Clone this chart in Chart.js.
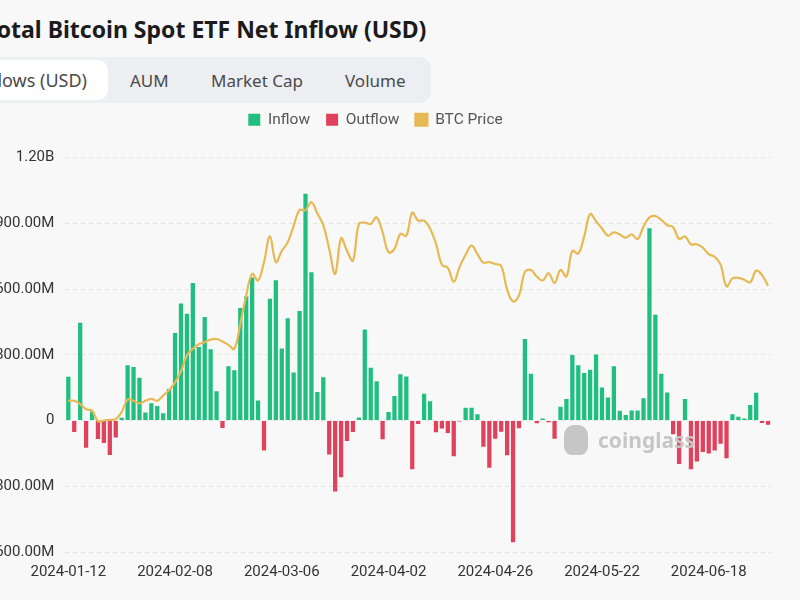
<!DOCTYPE html>
<html>
<head>
<meta charset="utf-8">
<script src="https://cdn.jsdelivr.net/npm/chart.js@4.4.1/dist/chart.umd.min.js"></script>
<style>
  html, body { margin: 0; padding: 0; }
  body {
    width: 800px; height: 600px; overflow: hidden; position: relative;
    background: #f8f8f8; font-family: "Noto Sans", sans-serif;
  }
  .title {
    position: absolute; left: -15px; top: 13px; white-space: nowrap;
    font-size: 23px; font-weight: 700; color: #1b1b1b;
  }
  .tabs {
    position: absolute; left: -40px; top: 57px; width: 471px; height: 46px;
    background: #eceef1; border-radius: 12px;
  }
  .tab {
    position: absolute; top: 80px; transform: translateY(-50%);
    font-size: 17px; color: #4a4a4a; white-space: nowrap;
  }
  .tab.active {
    left: -40px; top: 60px; height: 40px; width: 148px; transform: none;
    background: #fff; border-radius: 10px;
  }
  .tab.active span {
    position: absolute; right: 21px; top: 50%; transform: translateY(-50%);
    font-size: 18px;
  }
  #wrap { position: absolute; left: -20px; top: 96px; width: 820px; height: 488px; }
  .mark {
    position: absolute; left: 564px; top: 425px; display: flex; align-items: center;
    color: #c6c6c6; font-size: 21px; font-weight: 700; pointer-events: none;
  }
  .mark i {
    display: inline-block; width: 24px; height: 30px; margin-right: 10px;
    background: #c6c6c6; border-radius: 10px 10px 8px 8px;
  }
</style>
</head>
<body>
<div class="title">Total Bitcoin Spot ETF Net Inflow (USD)</div>
<div class="tabs"></div>
<div class="tab active"><span>Flows (USD)</span></div>
<div class="tab" style="left:130px">AUM</div>
<div class="tab" style="left:211px">Market Cap</div>
<div class="tab" style="left:345px">Volume</div>
<div id="wrap"><canvas id="flowChart"></canvas></div>
<div class="mark"><i></i>coinglass</div>
<script>
document.addEventListener("DOMContentLoaded", function () {
  // trading days
  const dates = [
    "2024-01-12", "2024-01-16", "2024-01-17", "2024-01-18", "2024-01-19", "2024-01-22", "2024-01-23",
    "2024-01-24", "2024-01-25", "2024-01-26", "2024-01-29", "2024-01-30", "2024-01-31",
    "2024-02-01", "2024-02-02", "2024-02-05", "2024-02-06", "2024-02-07", "2024-02-08", "2024-02-09",
    "2024-02-12", "2024-02-13", "2024-02-14", "2024-02-15", "2024-02-16", "2024-02-20", "2024-02-21",
    "2024-02-22", "2024-02-23", "2024-02-26", "2024-02-27", "2024-02-28", "2024-02-29",
    "2024-03-01", "2024-03-04", "2024-03-05", "2024-03-06", "2024-03-07", "2024-03-08", "2024-03-11",
    "2024-03-12", "2024-03-13", "2024-03-14", "2024-03-15", "2024-03-18", "2024-03-19", "2024-03-20",
    "2024-03-21", "2024-03-22", "2024-03-25", "2024-03-26", "2024-03-27", "2024-03-28",
    "2024-04-01", "2024-04-02", "2024-04-03", "2024-04-04", "2024-04-05", "2024-04-08", "2024-04-09",
    "2024-04-10", "2024-04-11", "2024-04-12", "2024-04-15", "2024-04-16", "2024-04-17", "2024-04-18",
    "2024-04-19", "2024-04-22", "2024-04-23", "2024-04-24", "2024-04-25", "2024-04-26", "2024-04-29",
    "2024-04-30",
    "2024-05-01", "2024-05-02", "2024-05-03", "2024-05-06", "2024-05-07", "2024-05-08", "2024-05-09",
    "2024-05-10", "2024-05-13", "2024-05-14", "2024-05-15", "2024-05-16", "2024-05-17", "2024-05-20",
    "2024-05-21", "2024-05-22", "2024-05-23", "2024-05-24", "2024-05-28", "2024-05-29", "2024-05-30",
    "2024-05-31",
    "2024-06-03", "2024-06-04", "2024-06-05", "2024-06-06", "2024-06-07", "2024-06-10", "2024-06-11",
    "2024-06-12", "2024-06-13", "2024-06-14", "2024-06-17", "2024-06-18", "2024-06-20", "2024-06-21",
    "2024-06-24", "2024-06-25", "2024-06-26", "2024-06-27", "2024-06-28",
    "2024-07-01", "2024-07-02", "2024-07-03"
  ];

  // net flow per day, millions of USD
  const netFlow = [
    200, -53, 446, -124, 41, -84, -103, -157, -78, 13, 252, 244, 195,
    37, 79, 66, 33, 144, 399, 534, 487, 627, 335, 472, 325, 134, -34,
    248, 229, 513, 566, 653, 91,
    -137, 555, 640, 328, 466, 219, 500, 1035, 676, 130, 197, -155, -324, -259,
    -93, -53, 14, 415, 241, 179,
    -85, 39, 112, 211, 201, -222, -16, 122, 88, -54, -36, -57, -163, -4,
    58, 58, 28, -120, -216, -83, -51, -159,
    -556, -35, 372, 213, -12, 9, -8, -83, 63, 98, 299, 252, 217, 232,
    301, 151, 105, 248, 45, 25, 46, 46,
    102, 877, 482, 213, 128, -63, -199, 98, -223, -187, -144, -151, -137, -106,
    -172, 29, 17, 9, 71,
    127, -11, -19
  ];

  // BTC close, USD
  const btcPrice = [
    43000, 43000, 42500, 41700, 41500, 39900, 40000, 40100, 40200, 41300, 43200, 43000, 42600,
    43000, 43300, 43000, 43800, 44600, 45800, 47500, 49900, 50900, 51600, 51900, 52300, 52400, 52000,
    51500, 50900, 54700, 59000, 62300, 61300,
    64100, 68000, 64100, 65800, 67100, 69600, 72000, 72000, 73200, 71500, 69700, 66100, 62300, 67700,
    65800, 64300, 69900, 70100, 69900, 70900,
    68600, 65600, 66100, 68400, 68100, 71600, 70400, 70400, 69200, 66900, 63700, 63200, 61100, 63400,
    65200, 66600, 65300, 64000, 64100, 63800, 63500, 59900,
    58100, 59000, 62600, 62900, 61900, 61300, 62400, 60900, 62900, 61900, 65800, 65400, 68000, 71400,
    70300, 69200, 68100, 68600, 68300, 67800, 68300, 67600,
    69500, 70900, 71100, 70500, 69700, 69400, 67600, 68000, 66800, 66800, 66300, 65300, 64900, 63700,
    60400, 61600, 61700, 61400, 61000,
    62800, 62100, 60500
  ];

  const yTicks = [-600, -300, 0, 300, 600, 900, 1200];

  const inflow = netFlow.map((v) => (v > 0 ? v : null));
  const outflow = netFlow.map((v) => (v < 0 ? v : null));

  const fmt = (v) => {
    if (v === 0) return "0";
    if (Math.abs(v) >= 1000) return (v / 1000).toFixed(2) + "B";
    return v.toFixed(2) + "M";
  };

  const tickFont = { family: "Roboto", size: 15 };

  // leave some room under the legend
  const legendGap = {
    id: "legendGap",
    beforeInit(chart) {
      const fit = chart.legend.fit;
      chart.legend.fit = function () {
        fit.bind(chart.legend)();
        this.height += 20;
      };
    },
  };

  const flowChart = new Chart(document.getElementById("flowChart"), {
    type: "bar",
    data: {
      labels: dates,
      datasets: [
        {
          label: "Inflow",
          data: inflow,
          backgroundColor: "#20bf80",
          borderWidth: 0,
          barPercentage: 0.72,
          categoryPercentage: 1,
          order: 1,
        },
        {
          label: "Outflow",
          data: outflow,
          backgroundColor: "#e0425d",
          borderWidth: 0,
          barPercentage: 0.72,
          categoryPercentage: 1,
          order: 1,
        },
        {
          type: "line",
          label: "BTC Price",
          data: btcPrice,
          yAxisID: "y1",
          borderColor: "#e7b954",
          backgroundColor: "#e7b954",
          borderWidth: 2.2,
          pointRadius: 0,
          tension: 0.4,
          order: 0,
        },
      ],
    },
    plugins: [legendGap],
    options: {
      responsive: true,
      maintainAspectRatio: false,
      animation: false,
      layout: { padding: { right: 29 } },
      plugins: {
        legend: {
          position: "top",
          labels: {
            boxWidth: 12,
            boxHeight: 12,
            padding: 16,
            color: "#555",
            font: { family: "Roboto", size: 15.5 },
            sort: (a, b) => a.datasetIndex - b.datasetIndex,
          },
        },
        tooltip: { enabled: false },
      },
      scales: {
        x: {
          stacked: true,
          grid: { display: false },
          border: { display: false },
          ticks: {
            autoSkip: false,
            maxRotation: 0,
            padding: 3,
            color: "#333",
            font: tickFont,
            callback: function (val, i) {
              return i % 18 === 0 ? dates[i] : "";
            },
          },
        },
        y: {
          stacked: true,
          min: yTicks[0],
          max: yTicks[yTicks.length - 1],
          afterBuildTicks: (axis) => {
            axis.ticks = yTicks.map((v) => ({ value: v }));
          },
          grid: { color: "#e3e3e3", drawTicks: false },
          border: { display: false, dash: [4, 4] },
          ticks: {
            padding: 11,
            color: "#333",
            font: tickFont,
            callback: (v) => fmt(v),
          },
        },
        y1: {
          display: false,
          min: 20000,
          max: 80000,
        },
      },
    },
  });
});
</script>
</body>
</html>
